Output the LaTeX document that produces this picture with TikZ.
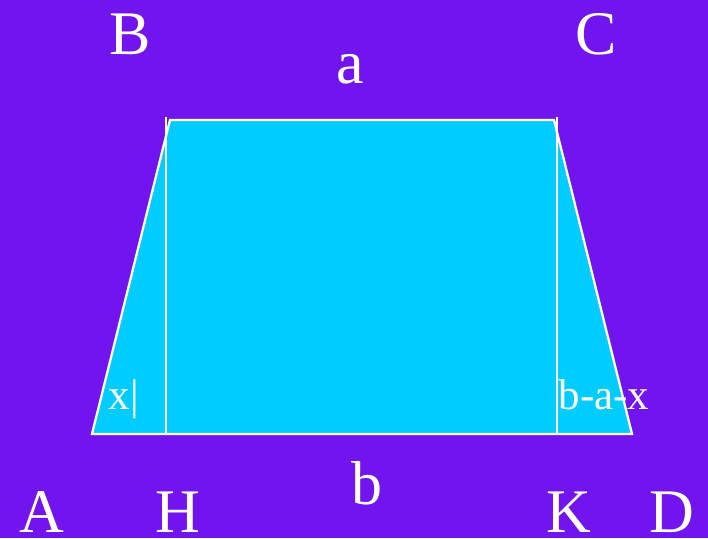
\documentclass[tikz,border=0pt]{standalone}
\usepackage{fontspec}
\setmainfont{Liberation Serif}
\usepackage{tikz}
\usetikzlibrary{positioning,backgrounds}

\definecolor{bgpurple}{HTML}{7114EE}
\definecolor{trapcyan}{HTML}{00CCFF}

\begin{document}
\begin{tikzpicture}[
    x=1pt, y=-1pt,
    edge/.style={draw=white, line width=2.3pt},
    biglabel/.style={text=white, inner sep=0pt, anchor=base, font=\fontsize{62}{62}\selectfont},
    smalllabel/.style={text=white, inner sep=0pt, anchor=base, font=\fontsize{43}{43}\selectfont}
]

% Background
\fill[bgpurple] (0,0) rectangle (708,538);
\useasboundingbox (0,0) rectangle (708,538);

% Corners
\coordinate (A) at (92,434);
\coordinate (B) at (170,120);
\coordinate (C) at (554,120);
\coordinate (D) at (632,434);

% Feet of the heights
\coordinate (Htop) at (166,117);
\coordinate (H) at (166,434);
\coordinate (Ktop) at (557,117);
\coordinate (K) at (557,434);

% Trapezoid
\fill[trapcyan] (A) -- (B) -- (C) -- (D) -- cycle;
\draw[edge, line join=miter] (A) -- (B) -- (C) -- (D) -- cycle;

% Heights
\draw[edge] (Htop) -- (H);
\draw[edge] (Ktop) -- (K);

% Vertex labels
\node[biglabel] (labB) at (130,54) {B};
\node[biglabel] (labC) at (596,54) {C};
\node[biglabel] (labA) at (42,532) {A};
\node[biglabel] (labH) at (178,532) {H};
\node[biglabel] (labK) at (569,532) {K};
\node[biglabel] (labD) at (672,532) {D};

% Side labels
\node[biglabel] (laba) at (350,83) {a};
\node[biglabel] (labb) at (367,504) {b};

% Segment labels
\node[smalllabel] (labx) at (124,409) {x|};
\node[smalllabel] (labrest) at (604,409) {b-a-x};

\end{tikzpicture}
\end{document}
